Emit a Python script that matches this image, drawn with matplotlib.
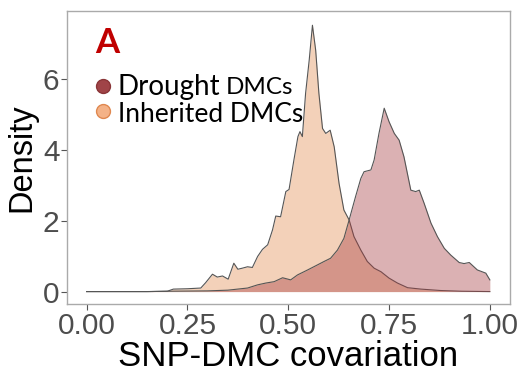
import numpy as np
import matplotlib
matplotlib.use("Agg")
import matplotlib.pyplot as plt

# Density curves (x = SNP-DMC covariation)
inherited_x = [0.00, 0.15, 0.20, 0.215, 0.25, 0.283, 0.295, 0.312, 0.324, 0.337,
               0.351, 0.365, 0.375, 0.386, 0.399, 0.411, 0.424, 0.436, 0.449, 0.461,
               0.469, 0.481, 0.494, 0.502, 0.514, 0.524, 0.529, 0.535, 0.543, 0.552,
               0.560, 0.568, 0.576, 0.585, 0.593, 0.604, 0.614, 0.626, 0.638, 0.651,
               0.663, 0.680, 0.696, 0.713, 0.730, 0.750, 0.771, 0.796, 0.829, 0.878,
               0.930, 1.000]
inherited_y = [0.00, 0.00, 0.01, 0.07, 0.08, 0.10, 0.25, 0.49, 0.41, 0.44,
               0.35, 0.80, 0.63, 0.66, 0.70, 0.68, 0.99, 1.19, 1.32, 1.74,
               2.13, 2.11, 2.82, 2.88, 3.71, 4.37, 4.51, 4.37, 5.59, 6.53,
               7.51, 6.81, 5.59, 4.60, 4.46, 4.55, 4.08, 3.05, 2.30, 2.02,
               1.55, 1.17, 0.85, 0.66, 0.56, 0.38, 0.24, 0.11, 0.07, 0.03,
               0.01, 0.00]

drought_x = [0.00, 0.15, 0.20, 0.30, 0.35, 0.399, 0.424, 0.444, 0.465, 0.486,
             0.506, 0.523, 0.548, 0.572, 0.589, 0.605, 0.622, 0.638, 0.651, 0.667,
             0.680, 0.688, 0.705, 0.713, 0.725, 0.738, 0.750, 0.763, 0.775, 0.787,
             0.804, 0.816, 0.825, 0.837, 0.854, 0.870, 0.887, 0.903, 0.924, 0.936,
             0.949, 0.969, 0.990, 1.000]
drought_y = [0.00, 0.00, 0.01, 0.02, 0.04, 0.10, 0.19, 0.24, 0.28, 0.39,
             0.33, 0.47, 0.61, 0.75, 0.85, 0.94, 1.17, 1.50, 2.02, 2.68,
             3.19, 3.38, 3.43, 3.71, 4.46, 5.17, 4.79, 4.46, 4.27, 3.80,
             2.86, 2.82, 2.86, 2.49, 1.93, 1.55, 1.22, 1.03, 0.82, 0.79,
             0.82, 0.61, 0.52, 0.33]

x_ticks = [0.00, 0.25, 0.50, 0.75, 1.00]
y_ticks = [0, 2, 4, 6]

DROUGHT = "#A63C41"
INHERITED = "#E18C52"
LINE = "#555555"

W, H = 518, 382
fig = plt.figure(figsize=(W / 100, H / 100), dpi=100)
ax = fig.add_axes([66.5 / W, 1 - 304 / H, (510 - 66.5) / W, (304 - 10.7) / H])

ax.fill_between(inherited_x, inherited_y, 0, color=INHERITED, alpha=0.4, lw=0, zorder=2)
ax.plot(inherited_x, inherited_y, color=LINE, lw=0.8, zorder=3)
ax.fill_between(drought_x, drought_y, 0, color=DROUGHT, alpha=0.4, lw=0, zorder=4)
ax.plot(drought_x, drought_y, color=LINE, lw=0.8, zorder=5)

ax.set_xlim(-0.05, 1.05)
ax.set_ylim(-0.35, 7.92)
ax.set_xticks(x_ticks)
ax.set_xticklabels([f"{v:.2f}" for v in x_ticks])
ax.set_yticks(y_ticks)
ax.tick_params(axis="both", length=4, width=0.8, color="#555555",
               labelcolor="#4D4D4D", labelsize=21.5)
ax.tick_params(axis="x", pad=2)
ax.tick_params(axis="y", pad=1)
for lab in ax.get_xticklabels() + ax.get_yticklabels():
    lab.set_family("Liberation Sans")
for sp in ax.spines.values():
    sp.set_color("#AAAAAA")
    sp.set_linewidth(1.0)

ax.set_xlabel("SNP-DMC covariation", fontsize=25, family="Liberation Sans",
              labelpad=0)
ax.set_ylabel("Density", fontsize=23.5, family="Liberation Sans", labelpad=4)

# panel tag and hand-made legend
fig.text(95 / W, 1 - 53 / H, "A", color="#C00000", fontsize=25, weight="bold",
         family="Lato")
fig.add_artist(plt.Line2D([102.7 / W], [1 - 86 / H], marker="o", ms=10,
                          mfc="#A04448", mec="#8A3538", mew=1, ls=""))
fig.add_artist(plt.Line2D([102.7 / W], [1 - 111 / H], marker="o", ms=10,
                          mfc="#F4B287", mec="#E08850", mew=1, ls=""))
fig.text(118 / W, 1 - 94.5 / H, "Drought", fontsize=20, family="Lato")
fig.text(226 / W, 1 - 94.5 / H, "DMCs", fontsize=17.5, family="Lato")
fig.text(118 / W, 1 - 122.5 / H, "Inherited DMCs", fontsize=19, family="Lato")

fig.savefig("out.png", dpi=100)
